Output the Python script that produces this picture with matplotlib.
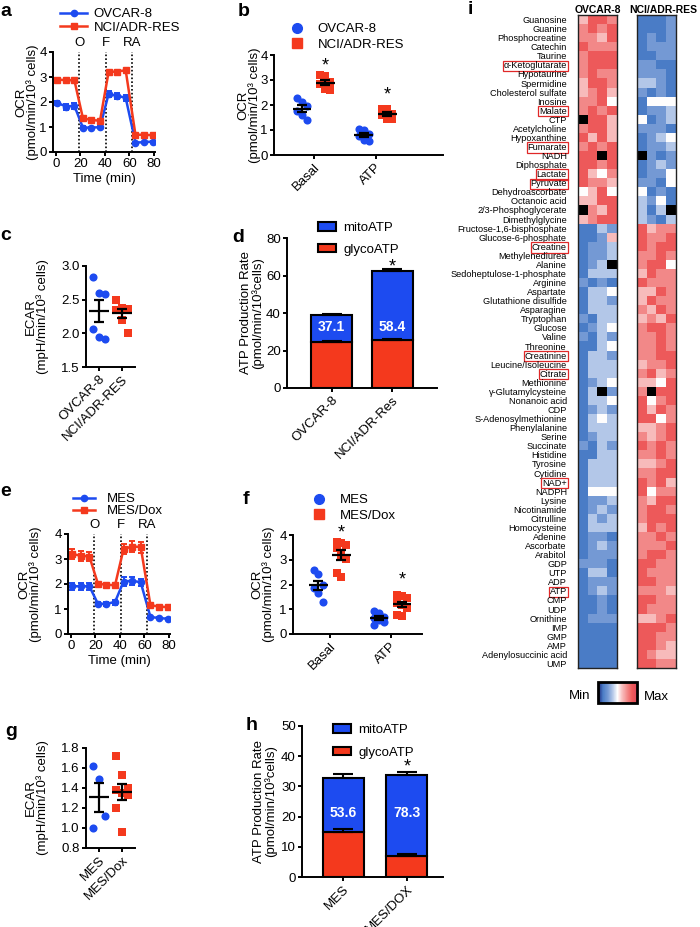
import matplotlib

matplotlib.use("Agg")
import matplotlib.pyplot as plt
import numpy as np
from matplotlib.cm import ScalarMappable
from matplotlib.colors import LinearSegmentedColormap, Normalize
from matplotlib.lines import Line2D
from matplotlib.patches import Patch

plt.rcParams["font.family"] = ["Liberation Sans", "DejaVu Sans"]

W, H = 700, 927
BLUE = "#1d4bf0"
RED = "#f4391d"
FS = 9.5

## Data

# a / e: Seahorse mito stress traces
time_min = [1, 8, 15, 22, 29, 36, 43, 50, 57, 65, 72, 79]
injection_labels = ["O", "F", "RA"]
injection_times = [19, 40.5, 62]

ovcar8_ocr = [1.97, 1.82, 1.85, 0.97, 0.98, 0.99, 2.32, 2.25, 2.17, 0.38, 0.39, 0.42]
ovcar8_err = [0.08, 0.12, 0.12, 0.06, 0.04, 0.04, 0.13, 0.11, 0.13, 0.04, 0.03, 0.04]
ncires_ocr = [2.9, 2.87, 2.87, 1.35, 1.28, 1.25, 3.2, 3.22, 3.27, 0.69, 0.69, 0.67]
ncires_err = [0.06, 0.05, 0.05, 0.06, 0.05, 0.05, 0.09, 0.06, 0.05, 0.04, 0.04, 0.04]

mes_ocr = [1.91, 1.91, 1.91, 1.21, 1.21, 1.28, 2.1, 2.13, 2.07, 0.68, 0.64, 0.61]
mes_err = [0.15, 0.15, 0.15, 0.07, 0.09, 0.1, 0.17, 0.17, 0.15, 0.05, 0.04, 0.04]
dox_ocr = [3.2, 3.13, 3.1, 2.01, 1.97, 1.95, 3.4, 3.5, 3.48, 1.15, 1.1, 1.07]
dox_err = [0.2, 0.2, 0.18, 0.07, 0.08, 0.07, 0.2, 0.22, 0.22, 0.06, 0.05, 0.05]

# b / f: basal and ATP-linked OCR replicates
ocr_group_names = ["Basal", "ATP"]
b_ovcar8 = [[2.27, 2.12, 1.95, 1.75, 1.6, 1.42], [1.05, 1.0, 0.85, 0.75, 0.6, 0.55]]
b_ncires = [[3.2, 3.15, 2.92, 2.85, 2.65, 2.6], [1.85, 1.85, 1.65, 1.6, 1.45, 1.45]]
f_mes = [[2.58, 2.42, 1.98, 1.85, 1.65, 1.3], [0.91, 0.85, 0.7, 0.64, 0.58, 0.47, 0.38]]
f_dox = [
    [3.73, 3.68, 3.6, 3.48, 3.2, 3.05, 2.46, 2.32],
    [1.58, 1.52, 1.45, 1.25, 1.18, 1.05, 0.78, 0.74],
]

# c / g: ECAR replicates
c_ovcar8 = [2.84, 2.6, 2.59, 2.07, 1.94, 1.92]
c_ncires = [2.49, 2.38, 2.36, 2.34, 2.2, 2.0]
g_mes = [1.62, 1.49, 1.12, 1.0]
g_dox = [1.72, 1.53, 1.40, 1.38, 1.35, 1.33, 1.2, 0.96]

# d / h: ATP production rate
d_names = ["OVCAR-8", "NCI/ADR-Res"]
d_glyco = [24.4, 25.4]
d_glyco_err = [0.8, 0.8]
d_mito = [14.6, 37.2]
d_total_err = [0.7, 1.0]
d_mito_pct = [37.1, 58.4]

h_names = ["MES", "MES/DOX"]
h_glyco = [14.9, 6.8]
h_glyco_err = [0.9, 0.9]
h_mito = [17.8, 27.0]
h_total_err = [1.3, 1.1]
h_mito_pct = [53.6, 78.3]

# i: metabolite heatmap (relative level, - low / + high; nan = not detected)
nan = np.nan
metabolites = [
    "Guanosine", "Guanine", "Phosphocreatine", "Catechin", "Taurine",
    "α-Ketoglutarate", "Hypotaurine", "Spermidine", "Cholesterol sulfate",
    "Inosine", "Malate", "CTP", "Acetylcholine", "Hypoxanthine", "Fumarate",
    "NADH", "Diphosphate", "Lactate", "Pyruvate", "Dehydroascorbate",
    "Octanoic acid", "2/3-Phosphoglycerate", "Dimethylglycine",
    "Fructose-1,6-bisphosphate", "Glucose-6-phosphate", "Creatine",
    "Methylenediurea", "Alanine", "Sedoheptulose-1-phosphate", "Arginine",
    "Aspartate", "Glutathione disulfide", "Asparagine", "Tryptophan",
    "Glucose", "Valine", "Threonine", "Creatinine", "Leucine/Isoleucine",
    "Citrate", "Methionine", "γ-Glutamylcysteine", "Nonanoic acid", "CDP",
    "S-Adenosylmethionine", "Phenylalanine", "Serine", "Succinate",
    "Histidine", "Tyrosine", "Cytidine", "NAD+", "NADPH", "Lysine",
    "Nicotinamide", "Citrulline", "Homocysteine", "Adenine", "Ascorbate",
    "Arabitol", "GDP", "UTP", "ADP", "ATP", "CMP", "UDP", "Ornithine",
    "IMP", "GMP", "AMP", "Adenylosuccinic acid", "UMP",
]
boxed = ["α-Ketoglutarate", "Malate", "Fumarate", "Lactate", "Pyruvate",
         "Creatine", "Creatinine", "Citrate", "NAD+", "ATP"]

ovcar8_z = [
    [1, 3, 3, 2], [2, 3, 2, 3], [2, 2, 1, 3], [3, 2, 2, 2], [2, 3, 3, 3],
    [2, 3, 3, 3], [2, 3, 2, 2], [1, 3, 3, 2], [1, 2, 3, 1], [2, 2, 3, 0],
    [2, 3, 2, 3], [nan, 3, 3, 1], [2, 3, 3, 1], [3, 1, 3, 1], [2, 3, 2, 3],
    [3, 3, nan, 3], [3, 3, 2, 3], [3, 1, 0, 2], [3, 2, 2, 1], [0, 1, 3, 0],
    [1, 1, 3, 3], [nan, 2, 1, 3], [1, 2, 3, 3],
    [-3, -3, -1, -2], [-3, -3, -2, 1], [-3, -2, -2, -1], [-3, -2, -2, -1],
    [-3, -2, -1, nan], [-3, -1, -1, -1], [-2, -3, -2, -3], [-3, -1, -1, 0],
    [-3, -1, -1, -2], [-3, -1, -1, -1], [-2, -3, -1, -1], [-3, -2, -1, 0],
    [-2, -3, -1, -2], [-3, -3, -1, 0], [-3, -1, -1, -2], [-3, -1, -1, -1],
    [-3, -1, -1, -1], [-3, -2, -1, 0], [-3, -1, nan, -2], [-3, -1, -1, 0],
    [-3, -2, -1, -2], [-3, -1, 0, -1], [-3, -1, -1, -1], [-3, -2, -1, -1],
    [-2, -3, -1, -2], [-3, -3, -1, -1], [-3, -1, -1, -1], [-3, -1, -1, -1],
    [-3, -1, -1, -1], [-3, 0, 0, 0], [-3, -2, -2, -1], [-3, -2, -1, -2],
    [-3, -1, -2, -1], [-3, -1, -1, -1], [-3, -2, -2, -3], [-3, -2, -1, -2],
    [-3, -2, -2, -2], [-2, -2, -2, -3], [-3, -1, -1, -3], [-3, -2, -2, -2],
    [-3, -2, -1, -2], [-3, -3, -2, -3], [-3, -3, -2, -3], [-3, -2, -2, -2],
    [-3, -3, -3, -3], [-3, -3, -3, -3], [-3, -3, -3, -3], [-3, -3, -3, -3],
    [-3, -3, -3, -3],
]
ncires_z = [
    [-3, -3, -3, -2], [-3, -3, -3, -2], [-3, -2, -3, -2], [-3, -2, -2, -2],
    [-3, -3, -2, -2], [-2, -2, -3, -3], [-2, -2, -2, -3], [-1, -1, -2, -3],
    [-2, -3, -2, -3], [-3, 0, 0, 0], [-3, -2, -2, -1], [0, -3, -2, -1],
    [-2, -2, -2, -3], [-3, -2, -1, 0], [-3, -2, -2, -1], [nan, -2, -3, -2],
    [-3, -2, -1, -2], [-3, -2, -2, 0], [-2, -2, -3, 0], [0, -3, -2, -3],
    [-1, -2, 0, -3], [-1, -3, -1, nan], [-1, -2, -3, -1],
    [3, 1, 2, 2], [3, 2, 2, 3], [3, 2, 3, 3], [2, 2, 3, 2], [2, 3, 3, 0],
    [1, 3, 2, 2], [3, 2, 2, 2], [1, 1, 3, 2], [1, 3, 2, 2], [2, 1, 3, 2],
    [1, 2, 1, 3], [2, 3, 3, 2], [2, 2, 3, 2], [2, 2, 3, 2], [2, 2, 3, 3],
    [1, 2, 2, 3], [2, 3, 1, 2], [1, 1, 0, 3], [2, nan, 3, 3], [3, 0, 2, 3],
    [3, 1, 3, 2], [3, 3, 0, 2], [1, 1, 2, 3], [2, 1, 2, 3], [3, 2, 3, 2],
    [2, 2, 3, 2], [1, 1, 2, 3], [2, 2, 3, 3], [3, 2, 3, 1], [3, 0, 2, 2],
    [2, 1, 3, 3], [2, 3, 3, 2], [2, 3, 3, 3], [1, 3, 2, 3], [2, 2, 3, 2],
    [2, 2, 2, 3], [2, 3, 3, 2], [3, 3, 2, 2], [3, 2, 2, 2], [3, 3, 2, 2],
    [2, 2, 2, 1], [3, 3, 2, 2], [3, 2, 2, 2], [1, 1, 2, 3], [3, 3, 3, 2],
    [3, 3, 2, 2], [3, 3, 2, 1], [3, 2, 1, 1], [3, 3, 2, 2],
]


## Helpers


def px_axes(fig, left, top, right, bottom):
    return fig.add_axes(
        (left / W, 1 - bottom / H, (right - left) / W, (bottom - top) / H)
    )


def place_ylabel(ax, x_px):
    # x_px: right edge of the two-line y label, in figure pixels
    pos = ax.get_position()
    ax.yaxis.set_label_coords((x_px / W - pos.x0) / pos.width, 0.5)


def prism_style(ax):
    for side in ("top", "right"):
        ax.spines[side].set_visible(False)
    for side in ("left", "bottom"):
        ax.spines[side].set_linewidth(1.4)
    ax.tick_params(direction="out", length=3, width=1.4, labelsize=FS, pad=1.5)


def panel_letter(fig, x, y, letter):
    fig.text(x / W, 1 - y / H, letter, fontsize=14, fontweight="bold",
             ha="left", va="center")


def fig_legend(ax, handles, x, y, **kw):
    ax.legend(handles=handles, loc="upper left", bbox_to_anchor=(x / W, 1 - y / H),
              bbox_transform=ax.figure.transFigure, frameon=False, fontsize=FS,
              borderpad=0, borderaxespad=0, **kw)


def rotated_xticks(ax, labels):
    ax.set_xticklabels(labels, rotation=45, ha="right", va="top",
                       rotation_mode="anchor", fontsize=FS)


def two_line_ylabel(ax, text):
    ax.set_ylabel(text, fontsize=FS, linespacing=0.88)


def ocr_trace(ax, series, names):
    for (vals, errs, color, marker), name in zip(series, names):
        ax.errorbar(time_min, vals, yerr=errs, color=color, marker=marker, ms=4.5,
                    lw=1.8, elinewidth=1.4, capsize=2.5, capthick=1.4, label=name)
    for lab, t in zip(injection_labels, injection_times):
        ax.axvline(t, color="k", ls=(0, (1, 1.3)), lw=1.2, zorder=0)
        ax.text(t, 4.1, lab, ha="center", va="bottom", fontsize=FS)
    ax.set_xlim(-2.5, 81)
    ax.set_ylim(0, 4)
    ax.set_xticks([0, 20, 40, 60, 80])
    ax.set_yticks([0, 1, 2, 3, 4])
    ax.set_xlabel("Time (min)", fontsize=FS, labelpad=2)
    two_line_ylabel(ax, "OCR\n(pmol/min/10³ cells)")
    prism_style(ax)
    handles = [
        Line2D([], [], color=BLUE, marker="o", ms=4.5, lw=1.8),
        Line2D([], [], color=RED, marker="s", ms=4.5, lw=1.8),
    ]
    for h, n in zip(handles, names):
        h.set_label(n)
    return handles


def dot_column(ax, x, values, color, marker, spread, mean_half, cap, size=34):
    values = np.asarray(values, dtype=float)
    n = len(values)
    offsets = spread * (np.arange(n) % 3 - 1)
    ax.scatter(x + offsets, values, s=size, color=color, marker=marker, lw=0,
               zorder=2, clip_on=False)
    mean = values.mean()
    sem = values.std(ddof=1) / np.sqrt(n)
    ax.hlines(mean, x - mean_half, x + mean_half, color="k", lw=1.6, zorder=3)
    ax.errorbar(x, mean, yerr=sem, fmt="none", ecolor="k", elinewidth=1.6,
                capsize=cap, capthick=1.6, zorder=3)
    return mean


def ocr_groups(ax, left_sets, right_sets, names, xlim, star_y):
    centers = np.arange(len(ocr_group_names))
    for c, lv, rv, sy in zip(centers, left_sets, right_sets, star_y):
        dot_column(ax, c - 0.19, lv, BLUE, "o", 0.08, 0.15, 3.5)
        dot_column(ax, c + 0.19, rv, RED, "s", 0.08, 0.15, 3.5, size=40)
        ax.text(c + 0.19, sy, "*", ha="center", va="center", fontsize=13)
    ax.set_xlim(*xlim)
    ax.set_ylim(0, 4)
    ax.set_yticks([0, 1, 2, 3, 4])
    ax.set_xticks(centers)
    rotated_xticks(ax, ocr_group_names)
    two_line_ylabel(ax, "OCR\n(pmol/min/10³ cells)")
    prism_style(ax)
    handles = [
        Line2D([], [], ls="none", color=BLUE, marker="o", ms=7, label=names[0]),
        Line2D([], [], ls="none", color=RED, marker="s", ms=7, label=names[1]),
    ]
    return handles


def ecar_pair(ax, left_vals, right_vals, names, ylim, yticks):
    dot_column(ax, 0, left_vals, BLUE, "o", 0.28, 0.45, 3.5)
    dot_column(ax, 1, right_vals, RED, "s", 0.28, 0.45, 3.5, size=40)
    ax.set_xlim(-0.57, 1.57)
    ax.set_ylim(*ylim)
    ax.set_yticks(yticks)
    ax.set_yticklabels([f"{t:.1f}" for t in yticks])
    ax.set_xticks([0, 1])
    rotated_xticks(ax, names)
    two_line_ylabel(ax, "ECAR\n(mpH/min/10³ cells)")
    prism_style(ax)


def atp_bars(ax, names, glyco, glyco_err, mito, total_err, pct, width, xlim,
             ymax, ystep, pct_y, star_y):
    x = np.arange(len(glyco))
    ax.bar(x, glyco, width, color=RED, edgecolor="k", lw=1.5, zorder=2)
    ax.bar(x, mito, width, bottom=glyco, color=BLUE, edgecolor="k", lw=1.5, zorder=2)
    total = np.add(glyco, mito)
    zeros = np.zeros(len(x))
    for tops, errs in ((glyco, glyco_err), (total, total_err)):
        ax.errorbar(x, tops, yerr=[zeros, errs], fmt="none", ecolor="k",
                    elinewidth=1.5, capsize=7, capthick=1.5, zorder=3)
    for xi, p in zip(x, pct):
        ax.text(xi, pct_y, f"{p:.1f}", color="white", fontweight="bold",
                ha="center", va="center", fontsize=FS + 0.5, zorder=4)
    ax.text(x[-1], star_y, "*", ha="center", va="center", fontsize=13)
    ax.set_xlim(*xlim)
    ax.set_ylim(0, ymax)
    ax.set_yticks(np.arange(0, ymax + 1, ystep))
    ax.set_xticks(x)
    rotated_xticks(ax, names)
    two_line_ylabel(ax, "ATP Production Rate\n(pmol/min/10³cells)")
    prism_style(ax)
    return [
        Patch(facecolor=BLUE, edgecolor="k", lw=1.5, label="mitoATP"),
        Patch(facecolor=RED, edgecolor="k", lw=1.5, label="glycoATP"),
    ]


## Figure

fig = plt.figure(figsize=(W / 100, H / 100), dpi=100)

# a
ax_a = px_axes(fig, 53, 52, 155, 152)
hand = ocr_trace(ax_a, [(ovcar8_ocr, ovcar8_err, BLUE, "o"),
                        (ncires_ocr, ncires_err, RED, "s")],
                 ["OVCAR-8", "NCI/ADR-RES"])
fig_legend(ax_a, hand, 60, 8, handlelength=2.05, handletextpad=0.5,
           labelspacing=0.1)
place_ylabel(ax_a, 39)
panel_letter(fig, 0, 12, "a")

# b
ax_b = px_axes(fig, 274, 55, 443, 155)
hand = ocr_groups(ax_b, b_ovcar8, b_ncires, ["OVCAR-8", "NCI/ADR-RES"],
                  (-0.64, 2.09), [3.55, 2.4])
fig_legend(ax_b, hand, 290, 23, handlelength=1.0, handletextpad=1.1,
           labelspacing=0.25)
place_ylabel(ax_b, 261)
panel_letter(fig, 238, 12, "b")

# c
ax_c = px_axes(fig, 86, 266, 135, 367)
ecar_pair(ax_c, c_ovcar8, c_ncires, ["OVCAR-8", "NCI/ADR-RES"], (1.5, 3.0),
          [1.5, 2.0, 2.5, 3.0])
place_ylabel(ax_c, 49)
panel_letter(fig, 0, 235, "c")

# d
ax_d = px_axes(fig, 287, 238, 437, 388)
hand = atp_bars(ax_d, d_names, d_glyco, d_glyco_err, d_mito, d_total_err,
                d_mito_pct, 0.67, (-0.73, 1.73), 80, 20, 32.5, 64.8)
fig_legend(ax_d, hand, 318, 222, handlelength=1.4, handleheight=0.6,
           handletextpad=0.5, labelspacing=0.75)
place_ylabel(ax_d, 264)
panel_letter(fig, 232, 238, "d")

# e
ax_e = px_axes(fig, 68, 534, 170, 634)
hand = ocr_trace(ax_e, [(mes_ocr, mes_err, BLUE, "o"),
                        (dox_ocr, dox_err, RED, "s")],
                 ["MES", "MES/Dox"])
fig_legend(ax_e, hand, 73, 493, handlelength=1.65, handletextpad=0.9,
           labelspacing=0.0)
place_ylabel(ax_e, 42)
panel_letter(fig, 0, 491, "e")

# f
ax_f = px_axes(fig, 293, 535, 422, 634)
hand = ocr_groups(ax_f, f_mes, f_dox, ["MES", "MES/Dox"], (-0.61, 1.52),
                  [4.1, 2.2])
fig_legend(ax_f, hand, 312, 494, handlelength=1.0, handletextpad=1.1,
           labelspacing=0.25)
place_ylabel(ax_f, 275)
panel_letter(fig, 243, 499, "f")

# g
ax_g = px_axes(fig, 86, 748, 135, 848)
ecar_pair(ax_g, g_mes, g_dox, ["MES", "MES/Dox"], (0.8, 1.8),
          [0.8, 1.0, 1.2, 1.4, 1.6, 1.8])
place_ylabel(ax_g, 49)
panel_letter(fig, 5, 731, "g")

# h
ax_h = px_axes(fig, 302, 726, 443, 877)
hand = atp_bars(ax_h, h_names, h_glyco, h_glyco_err, h_mito, h_total_err,
                h_mito_pct, 0.645, (-0.65, 1.57), 50, 10, 21.2, 36.5)
fig_legend(ax_h, hand, 333, 724, handlelength=1.4, handleheight=0.6,
           handletextpad=0.5, labelspacing=0.8)
place_ylabel(ax_h, 277)
panel_letter(fig, 246, 725, "h")

# i
cmap = LinearSegmentedColormap.from_list(
    "minmax",
    [(0.0, "#1a2378"), (0.125, "#4a7cc6"), (0.25, "#7499d4"),
     (0.375, "#b3c7e8"), (0.5, "#ffffff"), (0.625, "#f8bcbc"),
     (0.75, "#f38a8a"), (0.875, "#ee5a5a"), (1.0, "#e04a5c")],
)
cmap.set_bad("black")
norm = Normalize(vmin=-4, vmax=4)

ax_i1 = px_axes(fig, 578, 15, 617, 668)
ax_i2 = px_axes(fig, 637, 15, 676, 668)
for ax, z in ((ax_i1, ovcar8_z), (ax_i2, ncires_z)):
    ax.imshow(np.array(z, dtype=float), cmap=cmap, norm=norm, aspect="auto",
              interpolation="nearest")
    ax.set_xticks([])
    ax.set_yticks([])
    for s in ax.spines.values():
        s.set_linewidth(1.0)
        s.set_color("#222222")
fig.text(597.5 / W, 1 - 10 / H, "OVCAR-8", fontsize=7.5, fontweight="bold",
         ha="center", va="center")
fig.text(629 / W, 1 - 10 / H, "NCI/ADR-RES", fontsize=7.5, fontweight="bold",
         ha="left", va="center")

ax_i1.set_yticks(np.arange(len(metabolites)))
ax_i1.set_yticklabels(metabolites, fontsize=6.6)
ax_i1.tick_params(axis="y", length=0, pad=8)
for lab in ax_i1.get_yticklabels():
    if lab.get_text() in boxed:
        lab.set_bbox(dict(boxstyle="square,pad=0.08", fc="none", ec="#e02828",
                          lw=0.9))
panel_letter(fig, 468, 10, "i")

cax = px_axes(fig, 598, 682, 637, 703)
cb = fig.colorbar(ScalarMappable(norm=norm, cmap=cmap), cax=cax,
                  orientation="horizontal")
cb.set_ticks([])
cb.outline.set_linewidth(2)
fig.text(580 / W, 1 - 696 / H, "Min", ha="center", va="center", fontsize=FS)
fig.text(656 / W, 1 - 697 / H, "Max", ha="center", va="center", fontsize=FS)

fig.savefig("out.png", dpi=100)
